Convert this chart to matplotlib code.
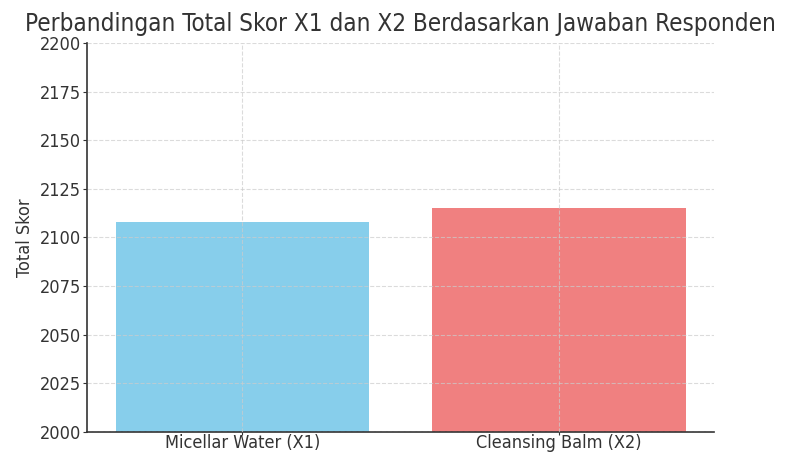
import matplotlib.pyplot as plt

plt.rcParams['font.stretch'] = 'condensed'

categories = ['Micellar Water (X1)', 'Cleansing Balm (X2)']
totals = [2108, 2115]
colors = ['skyblue', 'lightcoral']

fig, ax = plt.subplots(figsize=(7.92, 4.53), dpi=100)
fig.subplots_adjust(left=0.11, right=0.902, top=0.905, bottom=0.047)

ax.bar(categories, totals, color=colors, width=0.8)
ax.set_ylim(2000, 2200)
ax.set_xlim(-0.49, 1.49)
ax.set_yticks(range(2000, 2201, 25))
ax.grid(True, linestyle='--', color='#cccccc', alpha=0.7, linewidth=0.8)
ax.set_axisbelow(False)

for side in ['top', 'right']:
    ax.spines[side].set_visible(False)
for side in ['left', 'bottom']:
    ax.spines[side].set_color('#333333')
    ax.spines[side].set_linewidth(1.2)

ax.tick_params(colors='#333333')
ax.tick_params(axis='x', labelsize=13, pad=0, length=2)
ax.tick_params(axis='y', labelsize=13, pad=1.5, length=3)
ax.set_ylabel('Total Skor', fontsize=13, color='#333333', labelpad=4)
ax.set_title('Perbandingan Total Skor X1 dan X2 Berdasarkan Jawaban Responden',
             fontsize=17.4, color='#333333', pad=9)

plt.savefig('out.png')
